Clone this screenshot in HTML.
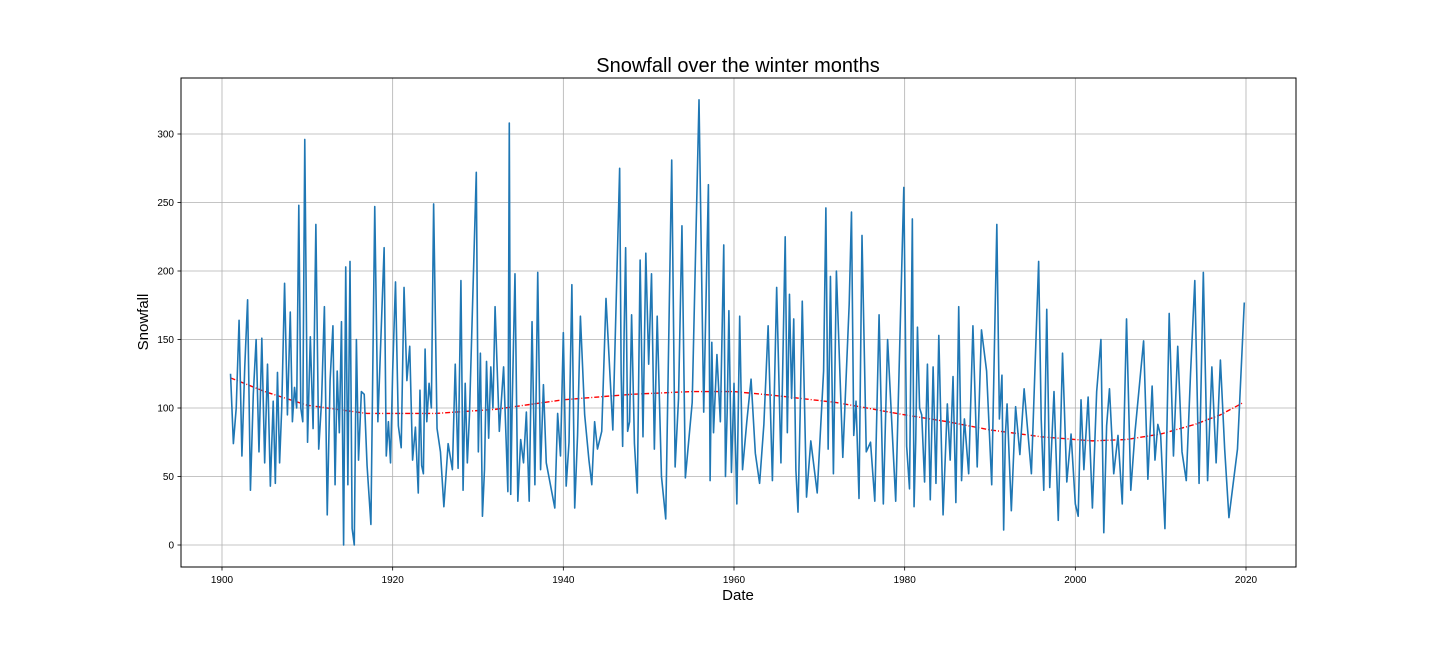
<!DOCTYPE html>
<html><head><meta charset="utf-8">
<style>
html,body{margin:0;padding:0;background:#fff;}
svg{display:block;font-family:"Liberation Sans","DejaVu Sans",sans-serif;}
</style></head>
<body>
<svg id="chart" width="1440" height="648" viewBox="0 0 1440 648" xmlns="http://www.w3.org/2000/svg">
<rect width="1440" height="648" fill="#fff"/>
<g id="grid"></g>
<g id="trend"></g>
<g id="series"></g>
<rect x="181" y="78" width="1115" height="489" fill="none" stroke="#000" stroke-width="1"/>
<g id="ticks"></g>
<text x="738" y="72" text-anchor="middle" font-size="20">Snowfall over the winter months</text>
<text x="738" y="600" text-anchor="middle" font-size="15">Date</text>
<text x="148" y="322" text-anchor="middle" font-size="15" transform="rotate(-90 148 322)">Snowfall</text>
</svg>
<script>
const xTicks = [1900, 1920, 1940, 1960, 1980, 2000, 2020];
const yTicks = [0, 50, 100, 150, 200, 250, 300];
const groupStart = [1901,1902,1903,1904,1905,1906,1907,1908,1909,1909.7,1911,1912,1913,1914,1915,1916,1917,1917.9,1919,1920,1921,1922,1923,1924,1924.8,1926,1927,1928,1929,1929.8,1931,1932,1933.5,1934,1935,1936,1937,1938,1939,1940,1941,1942,1943,1944,1945,1946.6,1947.3,1948,1949,1950,1951,1952,1952.7,1953.5,1954.3,1955.9,1957.0,1957.6,1958.8,1959.4,1960,1961,1962,1963,1964,1965,1966,1967,1968,1969,1970.5,1971.3,1972,1973.5,1974.3,1975,1976,1977,1978,1979.9,1980.9,1981.5,1982,1983,1984,1985,1986,1987,1988,1989,1990.8,1991.4,1992,1993,1994,1995.7,1996.3,1997,1998,1999,2000,2001,2002,2003,2004,2005,2006,2007,2008,2009,2010,2011,2012,2013,2014,2015,2016,2017,2018,2019,2019.8];
const groupValues = [[125,74,100],[164,65,130],[179,40,110],[150,68,151],[60,132,43],[105,45,126,60],[100,191,95],[170,90,115,100],[248,100,90],[296,75,152,85],[234,70,105],[174,22,120],[160,44,127,82],[163,0,203,44],[207,12,0,150],[62,112,110],[58,15],[247,90,153],[217,65,90,60],[127,192,87],[71,188,120],[145,62,86],[38,113,58,52,143],[90,118,100],[249,85,68],[28,74],[55,132,56],[193,40,118,60],[95],[272,68,140,21,55],[134,78,130,100],[174,83,130],[39,308,37],[100,198,32],[77,60,97],[32,163,44],[199,55,117],[60],[27,96,65],[155,43,75],[190,27,80],[167,95],[62,44,90],[70,83],[180,84],[275,125,72,155],[217,83,90],[168,74,38],[208,79,213],[132,198,70],[167,50],[19],[281,57],[107,233],[49,104],[325,97],[263,47,148],[82,139,90],[219,50,97],[171,53],[118,30,167],[55,90],[121,67],[45,88],[160,47],[188,60],[225,82,183,107],[165,55,24,95],[178,35],[76,38],[127,246,70],[196,52],[200,64],[176,243,80],[105,34],[226,68],[75,32],[168,30],[150,32],[261,72,41],[238,28,77],[159,100],[95,46,132],[33,130,45],[153,22],[103,62,123],[31,174,47],[92,52],[160,57],[157,127,44],[234,92],[124,11,80],[103,25],[101,66],[114,52],[207,92],[40,172],[42,112],[18,140],[46,81],[30,21,106],[55,108],[27,112],[150,9,87],[114,52],[80,30],[165,40],[83],[149,48],[116,62,88],[80,12],[169,65],[145,68],[47,125],[193,45],[199,47],[130,60],[135,70],[20],[70],[177]];
const trendYears = [1901,1905,1910,1917,1925,1932,1940,1948,1955,1960,1965,1972,1980,1985,1990,1996,2002,2006,2010,2014,2017,2019.7];
const trendValues = [122,112,102,96,96,99,106,110,112,112,109,104,95,90,84,79,76,77,81,88,95,104];

const X0=222, X1=1246, Y0=545, Y300=134;
function xScale(yr){return X0+(yr-1900)*(X1-X0)/120;}
function yScale(v){return Y0-(v)*(Y0-Y300)/300;}
const NS="http://www.w3.org/2000/svg";
const grid=document.getElementById('grid'), ticks=document.getElementById('ticks');
function mk(tag,attrs,parent){const e=document.createElementNS(NS,tag);for(const k in attrs)e.setAttribute(k,attrs[k]);parent.appendChild(e);return e;}

xTicks.forEach(t=>{
  const x=xScale(t);
  const g=mk('line',{x1:x,x2:x,y1:78,y2:567,stroke:'#b0b0b0','stroke-width':0.8},grid);
  
  
  const tk=mk('line',{x1:x,x2:x,y1:567,y2:570.5,stroke:'#000','stroke-width':0.8},ticks);
  
  
  const lb=mk('text',{x:x,y:583,'text-anchor':'middle','font-size':10},ticks);
  lb.textContent=t;
  
  
});
yTicks.forEach(t=>{
  const y=yScale(t);
  const g=mk('line',{x1:181,x2:1296,y1:y,y2:y,stroke:'#b0b0b0','stroke-width':0.8},grid);
  
  
  const tk=mk('line',{x1:177.5,x2:181,y1:y,y2:y,stroke:'#000','stroke-width':0.8},ticks);
  
  
  const lb=mk('text',{x:174,y:y+3.5,'text-anchor':'end','font-size':10},ticks);
  lb.textContent=t;
  
  
});

const ptsArr=[];
groupValues.forEach((vals,gi)=>{
  const s=groupStart[gi];
  const e=gi+1<groupStart.length?groupStart[gi+1]:s+0.5;
  vals.forEach((v,j)=>{
    const yr=s+(e-s)*j/vals.length;
    ptsArr.push(xScale(yr).toFixed(2)+','+yScale(v).toFixed(2));
  });
});
const line=mk('polyline',{points:ptsArr.join(' '),fill:'none',stroke:'#1f77b4','stroke-width':1.6,'stroke-linejoin':'round'},document.getElementById('series'));



const tpts=trendYears.map((yr,i)=>xScale(yr).toFixed(2)+','+yScale(trendValues[i]).toFixed(2)).join(' ');
const tl=mk('polyline',{points:tpts,fill:'none',stroke:'#ff0000','stroke-width':1.4,'stroke-dasharray':'5,2,1,2'},document.getElementById('trend'));


</script>
</body></html>
